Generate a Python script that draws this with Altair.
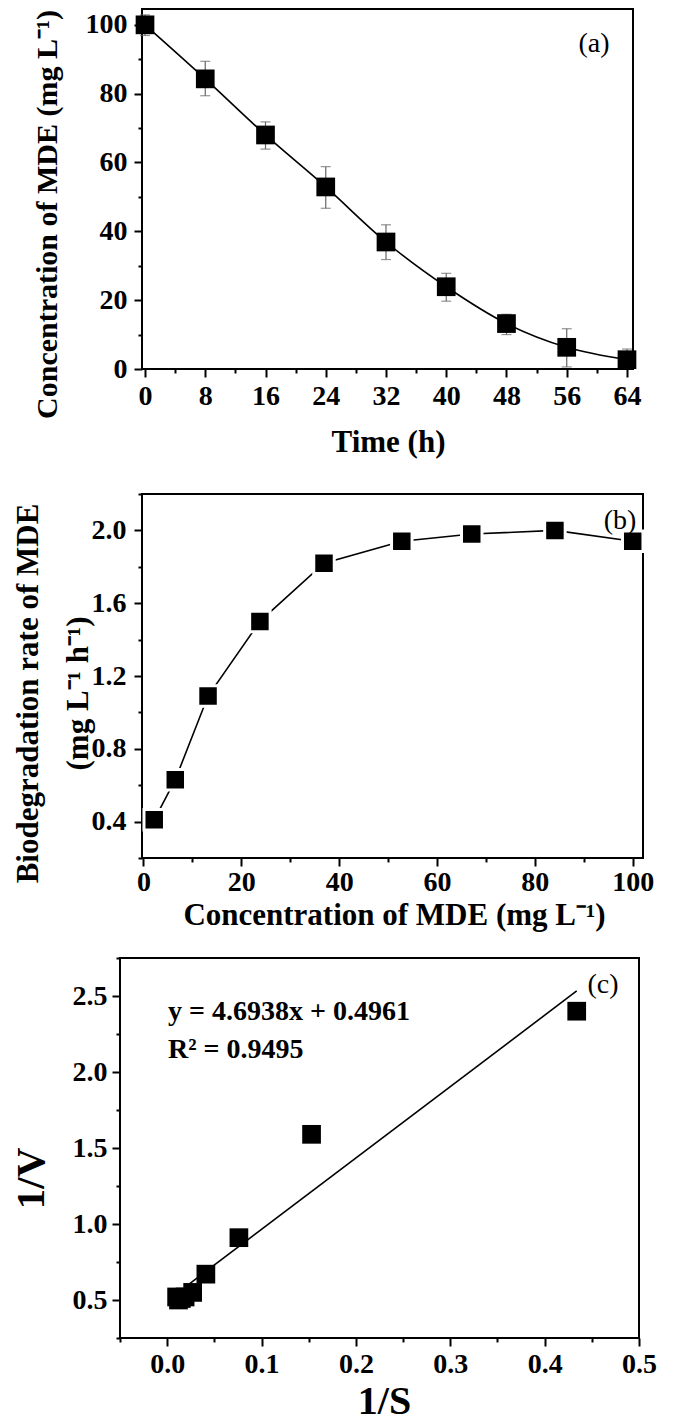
import altair as alt
import pandas as pd

# ---------------- data ----------------
# Panel (a): MDE concentration over time, with error bars
time_h = [0, 8, 16, 24, 32, 40, 48, 56, 64]
conc = [100.0, 84.3, 68.0, 52.9, 36.9, 23.9, 13.2, 6.3, 2.7]
conc_low = [96.9, 79.4, 63.9, 46.7, 31.8, 19.7, 10.0, 0.6, 0.8]
conc_high = [102.9, 89.4, 71.8, 58.8, 41.9, 27.8, 15.9, 11.7, 5.8]

# Panel (b): biodegradation rate vs concentration
s_conc = [2.2, 6.5, 13.2, 23.8, 36.9, 52.8, 67.1, 84.1, 100.0]
rate = [0.41, 0.63, 1.09, 1.50, 1.82, 1.94, 1.98, 2.00, 1.94]

# Panel (c): Lineweaver-Burk plot
inv_s = [0.434, 0.153, 0.076, 0.041, 0.027, 0.019, 0.015, 0.012, 0.010]
inv_v = [2.40, 1.59, 0.91, 0.67, 0.55, 0.52, 0.51, 0.50, 0.52]
fit_x = [0.019, 0.434]
fit_y = [0.585, 2.533]
eq_lines = ["y = 4.6938x + 0.4961", "R\u00b2 = 0.9495"]

# axis domains and ticks
a_xdom, a_ydom = [-0.4, 64.8], [0, 104.6]
b_xdom, b_ydom = [-0.3, 102.1], [0.2, 2.2]
c_xdom, c_ydom = [-0.05, 0.5], [0.25, 2.75]
a_xticks = [0, 8, 16, 24, 32, 40, 48, 56, 64]
a_xminor = [4, 12, 20, 28, 36, 44, 52, 60]
a_yticks = [0, 20, 40, 60, 80, 100]
a_yminor = [10, 30, 50, 70, 90]
b_xticks = [0, 20, 40, 60, 80, 100]
b_xminor = [10, 30, 50, 70, 90]
b_yticks = [0.4, 0.8, 1.2, 1.6, 2.0]
b_yminor = [0.2, 0.6, 1.0, 1.4, 1.8, 2.2]
c_xticks = [0.0, 0.1, 0.2, 0.3, 0.4, 0.5]
c_xminor = [-0.05, 0.05, 0.15, 0.25, 0.35, 0.45]
c_yticks = [0.5, 1.0, 1.5, 2.0, 2.5]
c_yminor = [0.25, 0.75, 1.25, 1.75, 2.25, 2.75]

titles = {
    "a_x": "Time (h)",
    "a_y": "Concentration of MDE (mg L\u207b\u00b9)",
    "b_x": "Concentration of MDE (mg L\u207b\u00b9)",
    "b_y": ["Biodegradation rate of MDE", "(mg L\u207b\u00b9 h\u207b\u00b9)"],
    "c_x": "1/S",
    "c_y": "1/V",
}

# ---------------- layout (whole page is one view) ----------------
W, H = 659, 1400
FONT = "Liberation Serif"
LAB = 28
TIT = 30

# plot boxes in view pixels: left, right, top, bottom
box_a = (134, 625, 1, 361)
box_b = (134, 635, 486, 850)
box_c = (112, 631, 950, 1330)


def sx(dom, box):
    return alt.Scale(domain=dom, range=[box[0], box[1]], nice=False, zero=False)


def sy(dom, box):
    return alt.Scale(domain=dom, range=[box[3], box[2]], nice=False, zero=False)


def major_axis(values, fmt, orient, box, title, tx, ty, lpad, tsize=TIT, **kw):
    off = -box[0] if orient == "left" else box[3] - H
    opts = dict(values=values, format=fmt, orient=orient, offset=off, domain=False,
                grid=False, ticks=True, tickSize=8, tickWidth=2, tickColor="black",
                labelFont=FONT, labelFontSize=LAB, labelFontWeight="bold",
                labelColor="black", labelFlush=False, labelOverlap=False,
                labelPadding=lpad,
                title=title, titleFont=FONT, titleFontSize=tsize, titleFontWeight="bold",
                titleColor="black", titleX=tx, titleY=ty, titleAlign="center",
                titleBaseline="middle", titleAngle=(270 if orient == "left" else 0))
    opts.update(kw)
    return alt.Axis(**opts)


def minor_axis(values, orient, box):
    off = -box[0] if orient == "left" else box[3] - H
    return alt.Axis(values=values, orient=orient, offset=off, labels=False, title=None,
                    domain=False, grid=False, tickSize=4, tickWidth=2, tickColor="black")


one = pd.DataFrame({"k": [0]})


def label(text, x, y, size=28, weight="normal", align="center"):
    return alt.Chart(one).mark_text(
        text=text, font=FONT, fontSize=size, fontWeight=weight, color="black",
        align=align, baseline="middle").encode(x=alt.value(x), y=alt.value(y))


def frame_layers(xdom, ydom, box, xmaj, ymaj, xmin_vals, ymin_vals):
    fdf = pd.DataFrame({"x0": [xdom[0]], "x1": [xdom[1]], "y0": [ydom[0]], "y1": [ydom[1]]})
    f = alt.Chart(fdf).mark_rect(fillOpacity=0, stroke="black", strokeWidth=2).encode(
        x=alt.X("x0:Q", scale=sx(xdom, box), axis=xmaj), x2="x1:Q",
        y=alt.Y("y0:Q", scale=sy(ydom, box), axis=ymaj), y2="y1:Q")
    m = alt.Chart(fdf).mark_rect(opacity=0).encode(
        x=alt.X("x0:Q", scale=sx(xdom, box), axis=minor_axis(xmin_vals, "bottom", box)),
        x2="x1:Q",
        y=alt.Y("y0:Q", scale=sy(ydom, box), axis=minor_axis(ymin_vals, "left", box)),
        y2="y1:Q")
    return [f, m]


# ---------------- panel (a) ----------------
df_a = pd.DataFrame({"t": time_h, "c": conc, "lo": conc_low, "hi": conc_high})
ba = alt.Chart(df_a)
XA = lambda f: alt.X(f, scale=sx(a_xdom, box_a), axis=None)
YA = lambda f: alt.Y(f, scale=sy(a_ydom, box_a), axis=None)

a_layers = frame_layers(
    a_xdom, a_ydom, box_a,
    major_axis(a_xticks, "d", "bottom", box_a, titles["a_x"], 380, 73, 5, tsize=31),
    major_axis(a_yticks, "d", "left", box_a, titles["a_y"], -95, 206, 7),
    a_xminor, a_yminor)
a_layers += [
    ba.mark_rule(color="#666666", strokeWidth=1.2).encode(x=XA("t:Q"), y=YA("lo:Q"), y2="hi:Q"),
    ba.mark_tick(orient="horizontal", size=10, thickness=1.2, color="#666666").encode(
        x=XA("t:Q"), y=YA("lo:Q")),
    ba.mark_tick(orient="horizontal", size=10, thickness=1.2, color="#666666").encode(
        x=XA("t:Q"), y=YA("hi:Q")),
    ba.mark_line(color="black", strokeWidth=1.6, interpolate="monotone").encode(
        x=XA("t:Q"), y=YA("c:Q")),
    ba.mark_square(size=350, color="black", opacity=1).encode(x=XA("t:Q"), y=YA("c:Q")),
    label("(a)", 586, 36),
]

# ---------------- panel (b) ----------------
df_b = pd.DataFrame({"s": s_conc, "r": rate})
bb = alt.Chart(df_b)
XB = lambda f: alt.X(f, scale=sx(b_xdom, box_b), axis=None)
YB = lambda f: alt.Y(f, scale=sy(b_ydom, box_b), axis=None)

b_layers = frame_layers(
    b_xdom, b_ydom, box_b,
    major_axis(b_xticks, "d", "bottom", box_b, titles["b_x"], 386, 57, 2, tsize=31),
    major_axis(b_yticks, ".1f", "left", box_b, titles["b_y"], -114, 685, 8,
               tsize=31, titleLineHeight=50),
    b_xminor, b_yminor)
b_layers += [
    bb.mark_line(color="black", strokeWidth=1.6).encode(x=XB("s:Q"), y=YB("r:Q")),
    bb.mark_square(size=420, color="black", opacity=1, stroke="white", strokeWidth=3,
                   strokeOpacity=1).encode(x=XB("s:Q"), y=YB("r:Q")),
    label("(b)", 612, 513),
]

# ---------------- panel (c) ----------------
df_c = pd.DataFrame({"x": inv_s, "y": inv_v})
df_fit = pd.DataFrame({"x": fit_x, "y": fit_y})
XC = lambda f: alt.X(f, scale=sx(c_xdom, box_c), axis=None)
YC = lambda f: alt.Y(f, scale=sy(c_ydom, box_c), axis=None)

c_layers = frame_layers(
    c_xdom, c_ydom, box_c,
    major_axis(c_xticks, ".1f", "bottom", box_c, titles["c_x"], 376, 63, 4, tsize=40),
    major_axis(c_yticks, ".1f", "left", box_c, titles["c_y"], -89, 1170, 5, tsize=41),
    c_xminor, c_yminor)
c_layers += [
    alt.Chart(df_fit).mark_line(color="black", strokeWidth=1.6).encode(
        x=XC("x:Q"), y=YC("y:Q")),
    alt.Chart(df_c).mark_square(size=350, color="black", opacity=1).encode(
        x=XC("x:Q"), y=YC("y:Q")),
    label(eq_lines[0], 160, 1004, size=28, weight="bold", align="left"),
    label(eq_lines[1], 160, 1042, size=28, weight="bold", align="left"),
    label("(c)", 595, 977),
]

chart = alt.layer(*a_layers, *b_layers, *c_layers).resolve_scale(
    x="independent", y="independent"
).resolve_axis(
    x="independent", y="independent"
).properties(
    width=W, height=H, padding=0, background="white"
).configure_view(stroke="transparent", fill="white")

chart.save("out.html", embed_options={"renderer": "svg", "actions": False})
